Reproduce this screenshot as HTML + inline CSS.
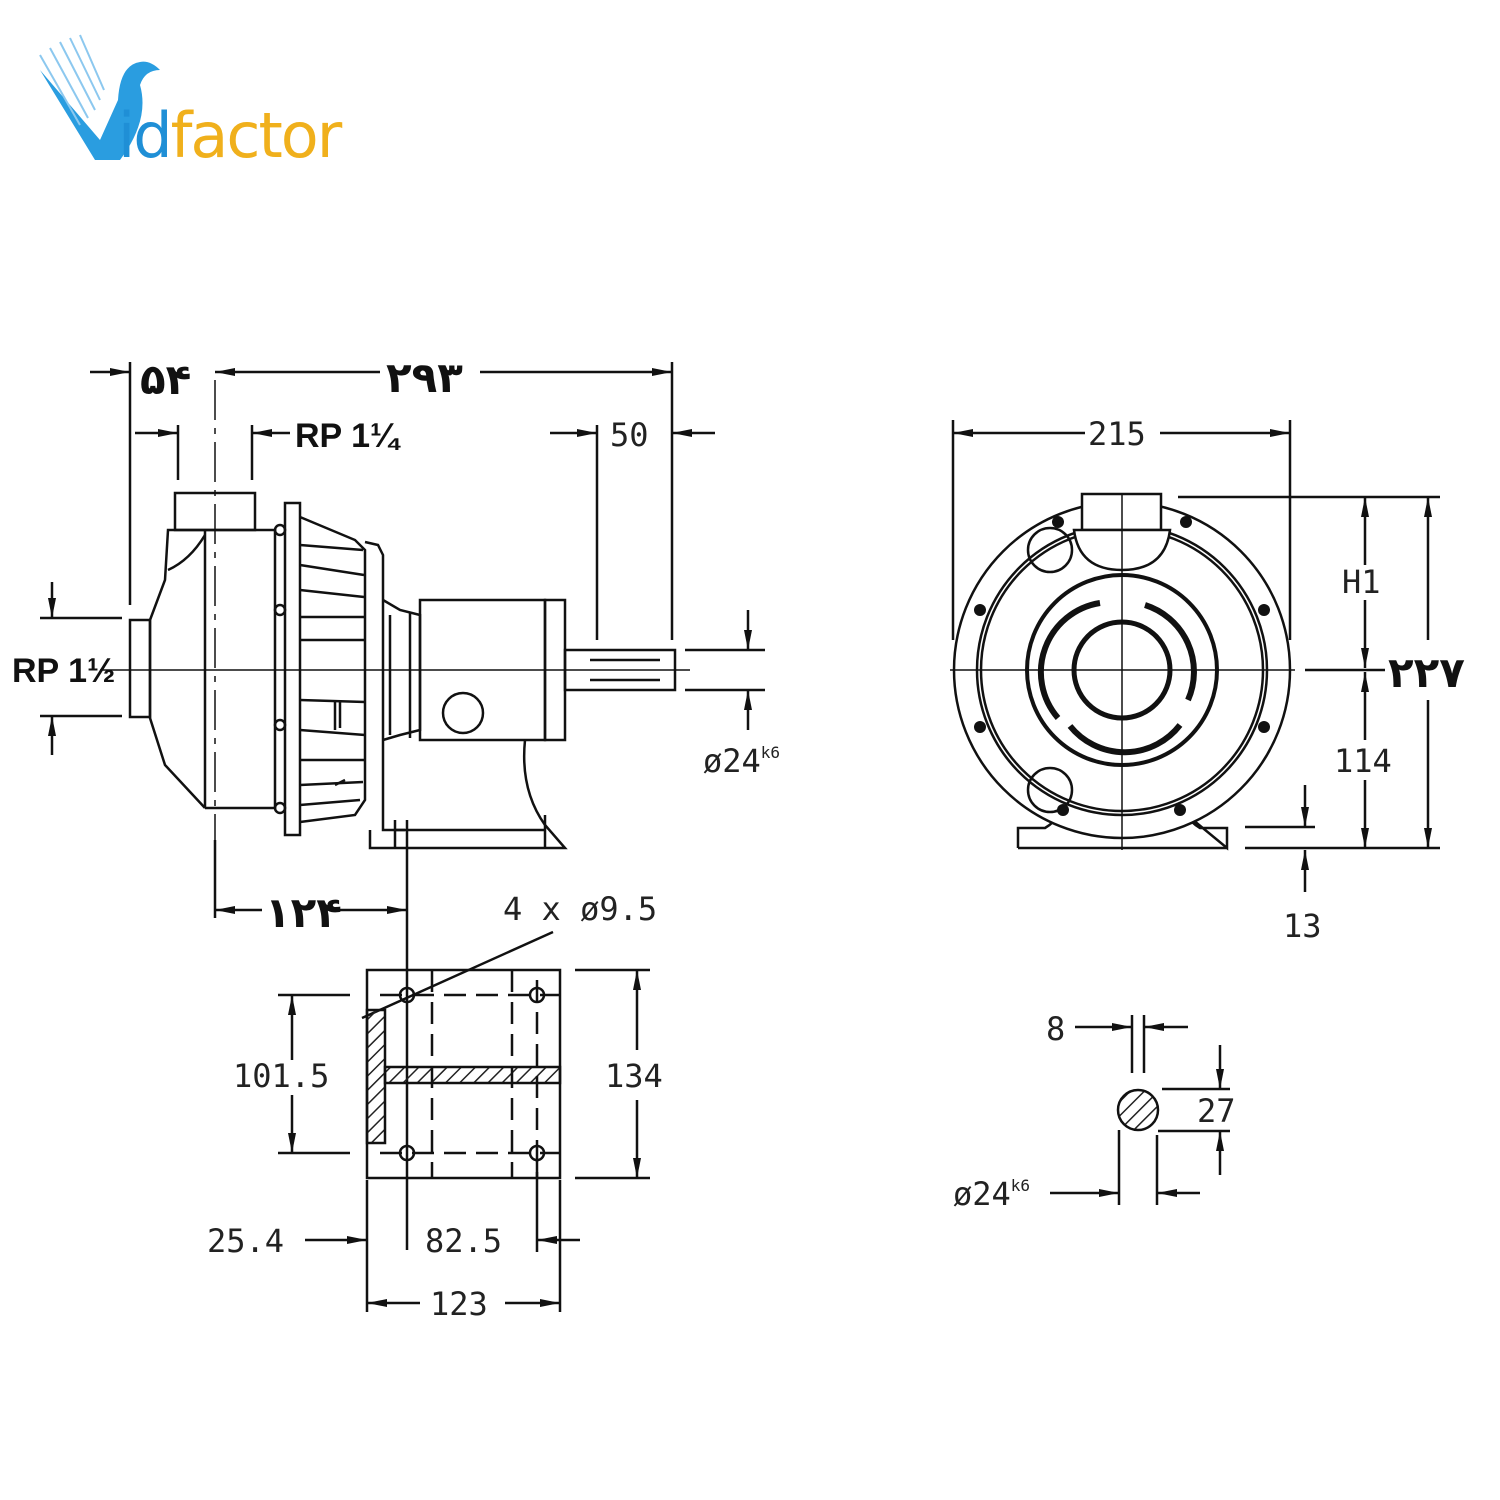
<!DOCTYPE html>
<html><head><meta charset="utf-8"><style>
html,body{margin:0;padding:0;background:#fff;}
svg{display:block}
.t{font-family:"DejaVu Sans Mono","Liberation Mono",monospace;font-size:32px;fill:#222}
.b{font-family:"Liberation Sans","DejaVu Sans",sans-serif;font-weight:bold;font-size:34px;fill:#111}
.p{font-family:"DejaVu Sans","Liberation Sans",sans-serif;font-weight:bold;font-size:42px;fill:#111}
</style></head><body>
<svg width="1500" height="1500" viewBox="0 0 1500 1500" xmlns="http://www.w3.org/2000/svg">
<defs>
<marker id="a" viewBox="0 0 20 10" refX="20" refY="5" markerWidth="20" markerHeight="10" markerUnits="userSpaceOnUse" orient="auto"><path d="M0,1 L20,5 L0,9 z" fill="#111"/></marker>
<pattern id="h" width="10" height="10" patternUnits="userSpaceOnUse" patternTransform="rotate(45)"><line x1="0" y1="0" x2="0" y2="10" stroke="#222" stroke-width="3"/></pattern>
</defs>

<!-- Logo -->
<g>
<path d="M40,70 L95,160 L120,160 Q150,120 140,85 Q145,70 160,70 Q150,60 140,62 Q120,65 118,100 L100,140 Z" fill="#2a9de0"/>
<g stroke="#8cc8ef" stroke-width="2">
<line x1="40" y1="55" x2="80" y2="125"/><line x1="50" y1="48" x2="88" y2="118"/><line x1="60" y1="42" x2="95" y2="110"/><line x1="70" y1="38" x2="100" y2="100"/><line x1="80" y1="35" x2="104" y2="90"/>
</g>
<text x="118" y="157" font-family="'DejaVu Sans','Liberation Sans',sans-serif" font-size="62" letter-spacing="-2" fill="#1f8fd6">id<tspan fill="#f0b01c">factor</tspan></text>
</g>

<g fill="none" stroke="#111" stroke-width="2.5">
<!-- LEFT VIEW: pump -->
<rect x="175" y="493" width="80" height="37"/>
<path d="M205,530 L275,530 L275,808 L205,808"/>
<path d="M205,530 L168,530 L165,580 L150,620 L150,718 L165,765 L205,808"/>
<path d="M205,535 Q190,560 168,570"/>
<line x1="205" y1="530" x2="205" y2="808"/>
<rect x="130" y="620" width="20" height="97"/>
<rect x="285" y="503" width="15" height="332"/>
<circle cx="280" cy="530" r="5"/><circle cx="280" cy="610" r="5"/><circle cx="280" cy="725" r="5"/><circle cx="280" cy="808" r="5"/>
<path d="M300,517 L355,540 L365,550 L365,800 L355,815 L300,822"/>
<path d="M300,545 L363,550 M300,565 L364,575 M300,590 L364,597 M300,640 L365,640 M300,700 L365,702 M300,760 L365,760 M300,785 L363,782 M300,805 L360,800 M300,617 L365,617 M300,730 L365,735"/>
<path d="M335,700 L335,730 M340,700 L340,728 M335,785 L345,780"/>
<path d="M365,542 L378,545 L383,555 L383,830 L405,830"/>
<path d="M383,600 L400,610 L420,615 L420,730 L400,735 L383,740"/>
<line x1="390" y1="615" x2="390" y2="735"/><line x1="410" y1="612" x2="410" y2="738"/>
<rect x="420" y="600" width="125" height="140"/>
<rect x="545" y="600" width="20" height="140"/>
<circle cx="463" cy="713" r="20"/>
<rect x="565" y="650" width="110" height="40"/>
<line x1="590" y1="660" x2="660" y2="660"/><line x1="590" y1="680" x2="660" y2="680"/>
<path d="M525,740 Q520,790 545,825 L565,848 L370,848 L370,830"/>
<line x1="395" y1="830" x2="545" y2="830"/>
<line x1="395" y1="820" x2="395" y2="848"/><line x1="545" y1="815" x2="545" y2="848"/>
<!-- center lines -->
<line x1="100" y1="670" x2="690" y2="670" stroke-width="1.5"/>
<line x1="215" y1="380" x2="215" y2="850" stroke-width="1.5" stroke-dasharray="40,8,6,8"/>
<line x1="215" y1="840" x2="215" y2="918"/>

<!-- dims left -->
<line x1="130" y1="362" x2="130" y2="605"/>
<line x1="672" y1="362" x2="672" y2="640"/>
<line x1="90" y1="372" x2="130" y2="372" marker-end="url(#a)"/>
<line x1="380" y1="372" x2="215" y2="372" marker-end="url(#a)"/>
<line x1="480" y1="372" x2="672" y2="372" marker-end="url(#a)"/>
<line x1="178" y1="425" x2="178" y2="480"/><line x1="252" y1="425" x2="252" y2="480"/>
<line x1="135" y1="433" x2="178" y2="433" marker-end="url(#a)"/>
<line x1="290" y1="433" x2="252" y2="433" marker-end="url(#a)"/>
<line x1="597" y1="425" x2="597" y2="640"/>
<line x1="550" y1="433" x2="597" y2="433" marker-end="url(#a)"/>
<line x1="715" y1="433" x2="672" y2="433" marker-end="url(#a)"/>
<line x1="40" y1="618" x2="122" y2="618"/><line x1="40" y1="716" x2="122" y2="716"/>
<line x1="52" y1="582" x2="52" y2="618" marker-end="url(#a)"/>
<line x1="52" y1="755" x2="52" y2="716" marker-end="url(#a)"/>
<line x1="685" y1="650" x2="765" y2="650"/><line x1="685" y1="690" x2="765" y2="690"/>
<line x1="748" y1="610" x2="748" y2="650" marker-end="url(#a)"/>
<line x1="748" y1="730" x2="748" y2="690" marker-end="url(#a)"/>
<line x1="407" y1="820" x2="407" y2="1250"/>
<line x1="262" y1="910" x2="215" y2="910" marker-end="url(#a)"/>
<line x1="335" y1="910" x2="407" y2="910" marker-end="url(#a)"/>
<line x1="553" y1="932" x2="362" y2="1018"/>

<!-- foot plan -->
<rect x="367" y="970" width="193" height="208"/>
<rect x="367" y="1010" width="18" height="133" fill="url(#h)"/>
<rect x="385" y="1067" width="175" height="16" fill="url(#h)"/>
<g stroke-dasharray="22,10">
<line x1="380" y1="995" x2="560" y2="995"/><line x1="380" y1="1153" x2="560" y2="1153"/>
<line x1="432" y1="970" x2="432" y2="1178"/><line x1="512" y1="970" x2="512" y2="1178"/>
<line x1="537" y1="980" x2="537" y2="1178"/>
</g>
<circle cx="407" cy="995" r="7"/><circle cx="537" cy="995" r="7"/><circle cx="407" cy="1153" r="7"/><circle cx="537" cy="1153" r="7"/>
<line x1="278" y1="995" x2="350" y2="995"/><line x1="278" y1="1153" x2="350" y2="1153"/>
<line x1="292" y1="1060" x2="292" y2="995" marker-end="url(#a)"/>
<line x1="292" y1="1095" x2="292" y2="1153" marker-end="url(#a)"/>
<line x1="575" y1="970" x2="650" y2="970"/><line x1="575" y1="1178" x2="650" y2="1178"/>
<line x1="637" y1="1050" x2="637" y2="970" marker-end="url(#a)"/>
<line x1="637" y1="1100" x2="637" y2="1178" marker-end="url(#a)"/>
<line x1="367" y1="1180" x2="367" y2="1312"/><line x1="560" y1="1180" x2="560" y2="1312"/><line x1="537" y1="1160" x2="537" y2="1252"/>
<line x1="305" y1="1240" x2="367" y2="1240" marker-end="url(#a)"/>
<line x1="580" y1="1240" x2="537" y2="1240" marker-end="url(#a)"/>
<line x1="420" y1="1303" x2="367" y2="1303" marker-end="url(#a)"/>
<line x1="505" y1="1303" x2="560" y2="1303" marker-end="url(#a)"/>

<!-- RIGHT VIEW -->
<path d="M1018,848 L1018,828 L1045,828 Q1055,822 1058,815 M1187,815 Q1190,822 1200,828 L1227,828 L1227,848 Z"/>
<circle cx="1122" cy="670" r="168" fill="#fff"/>
<circle cx="1122" cy="670" r="145"/><circle cx="1122" cy="670" r="141"/>
<circle cx="1122" cy="670" r="95" stroke-width="4"/>
<circle cx="1122" cy="670" r="48" stroke-width="5"/>
<path d="M1100,603 A70,70 0 0 0 1058,718" stroke-width="6"/>
<path d="M1145,605 A70,70 0 0 1 1188,700" stroke-width="6"/>
<path d="M1070,726 A70,70 0 0 0 1180,725" stroke-width="6"/>
<rect x="1082" y="494" width="79" height="36" fill="#fff"/>
<path d="M1074,530 L1170,530 Q1165,570 1122,570 Q1079,570 1074,530 Z" fill="#fff"/>
<line x1="950" y1="670" x2="1295" y2="670" stroke-width="1.5"/>
<line x1="1122" y1="495" x2="1122" y2="850" stroke-width="1.5"/>
<line x1="1018" y1="848" x2="1227" y2="848"/>
<circle cx="1050" cy="550" r="22"/><circle cx="1050" cy="790" r="22"/>
<line x1="953" y1="420" x2="953" y2="640"/><line x1="1290" y1="420" x2="1290" y2="640"/>
<line x1="1085" y1="433" x2="953" y2="433" marker-end="url(#a)"/>
<line x1="1160" y1="433" x2="1290" y2="433" marker-end="url(#a)"/>
<line x1="1178" y1="497" x2="1440" y2="497"/>
<line x1="1245" y1="848" x2="1440" y2="848"/>
<line x1="1245" y1="827" x2="1315" y2="827"/>
<line x1="1305" y1="670" x2="1385" y2="670"/>
<line x1="1365" y1="565" x2="1365" y2="497" marker-end="url(#a)"/>
<line x1="1365" y1="600" x2="1365" y2="668" marker-end="url(#a)"/>
<line x1="1365" y1="740" x2="1365" y2="672" marker-end="url(#a)"/>
<line x1="1365" y1="780" x2="1365" y2="848" marker-end="url(#a)"/>
<line x1="1428" y1="640" x2="1428" y2="497" marker-end="url(#a)"/>
<line x1="1428" y1="700" x2="1428" y2="848" marker-end="url(#a)"/>
<line x1="1305" y1="785" x2="1305" y2="827" marker-end="url(#a)"/>
<line x1="1305" y1="892" x2="1305" y2="850" marker-end="url(#a)"/>

<!-- key detail -->
<circle cx="1138" cy="1110" r="20" fill="url(#h)"/>
<line x1="1132" y1="1015" x2="1132" y2="1073"/><line x1="1144" y1="1015" x2="1144" y2="1073"/>
<line x1="1075" y1="1027" x2="1132" y2="1027" marker-end="url(#a)"/>
<line x1="1188" y1="1027" x2="1144" y2="1027" marker-end="url(#a)"/>
<line x1="1162" y1="1089" x2="1230" y2="1089"/><line x1="1158" y1="1131" x2="1230" y2="1131"/>
<line x1="1220" y1="1045" x2="1220" y2="1089" marker-end="url(#a)"/>
<line x1="1220" y1="1175" x2="1220" y2="1131" marker-end="url(#a)"/>
<line x1="1119" y1="1130" x2="1119" y2="1205"/><line x1="1157" y1="1135" x2="1157" y2="1205"/>
<line x1="1050" y1="1193" x2="1119" y2="1193" marker-end="url(#a)"/>
<line x1="1200" y1="1193" x2="1157" y2="1193" marker-end="url(#a)"/>
</g>
<g fill="#111">
<circle cx="1058" cy="522" r="6"/><circle cx="1186" cy="522" r="6"/><circle cx="980" cy="610" r="6"/><circle cx="1264" cy="610" r="6"/>
<circle cx="980" cy="727" r="6"/><circle cx="1264" cy="727" r="6"/><circle cx="1063" cy="810" r="6"/><circle cx="1180" cy="810" r="6"/>
</g>

<!-- text -->
<text class="p" x="140" y="394">۵۴</text>
<text class="p" x="386" y="392">۲۹۳</text>
<text class="b" x="295" y="447">RP 1¼</text>
<text class="t" x="610" y="446">50</text>
<text class="b" x="12" y="682">RP 1½</text>
<text class="t" x="703" y="772">ø24<tspan font-size="16" dy="-14">k6</tspan></text>
<text class="p" x="265" y="927">۱۲۴</text>
<text class="t" x="503" y="920">4 x ø9.5</text>
<text class="t" x="233" y="1087">101.5</text>
<text class="t" x="605" y="1087">134</text>
<text class="t" x="207" y="1252">25.4</text>
<text class="t" x="425" y="1252">82.5</text>
<text class="t" x="430" y="1315">123</text>
<text class="t" x="1088" y="445">215</text>
<text class="t" x="1342" y="593">H1</text>
<text class="p" x="1388" y="687">۲۲۷</text>
<text class="t" x="1334" y="772">114</text>
<text class="t" x="1283" y="937">13</text>
<text class="t" x="1046" y="1040">8</text>
<text class="t" x="1197" y="1122">27</text>
<text class="t" x="953" y="1205">ø24<tspan font-size="16" dy="-14">k6</tspan></text>
</svg>
</body></html>
